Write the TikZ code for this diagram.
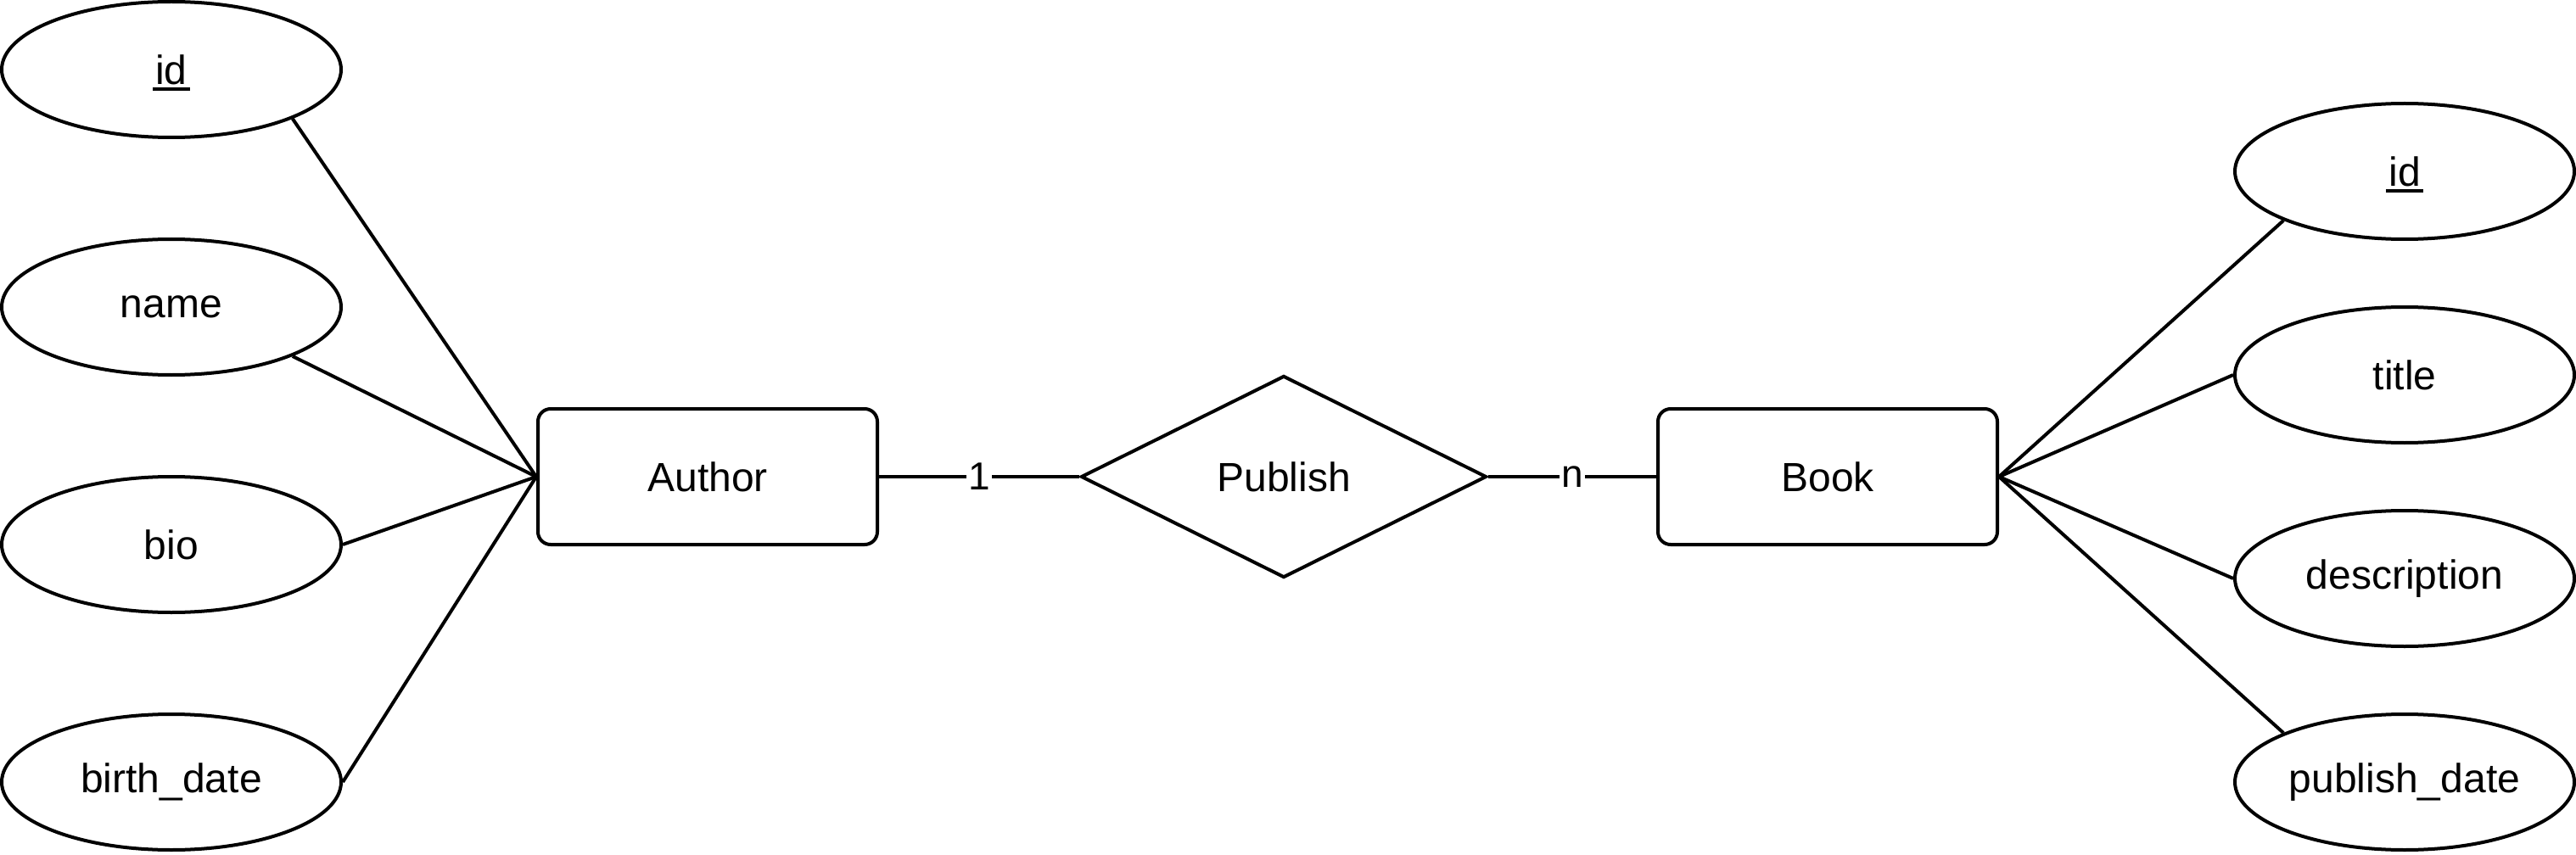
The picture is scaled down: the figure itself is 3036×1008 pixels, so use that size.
\documentclass[tikz,border=0pt]{standalone}
\usepackage{fontspec}
\setmainfont{Liberation Sans}
\usetikzlibrary{shapes.geometric}
\newcommand{\keyattr}[1]{\setbox0\hbox{#1}\rlap{\smash{\hspace*{-3pt}\rule[-8pt]{\dimexpr\wd0+6pt\relax}{4pt}}}#1}
\begin{document}
\begin{tikzpicture}[x=1pt,y=-1pt, line width=4pt,
  txt/.style={font=\fontsize{48}{56}\selectfont},
  attr/.style={draw, ellipse, txt, minimum width=400pt, minimum height=160pt, inner sep=0pt},
  entity/.style={draw, rectangle, txt, rounded corners=15pt, minimum width=400pt, minimum height=160pt, inner sep=0pt},
  rel/.style={draw, diamond, txt, minimum width=478pt, minimum height=238pt, inner sep=0pt},
  card/.style={fill=white, inner sep=2pt, font=\fontsize{46}{54}\selectfont},
  link/.style={draw}]
\useasboundingbox (0,0) rectangle (3036,1008);
% left attributes
\node[attr] (aid)    at (202,82)  {\keyattr{id}};
\node[attr] (aname)  at (202,362) {name};
\node[attr] (abio)   at (202,642) {bio};
\node[attr] (abirth) at (202,922) {birth\_date};
% right attributes
\node[attr] (bid)    at (2834,202) {\keyattr{id}};
\node[attr] (btitle) at (2834,442) {title};
\node[attr] (bdesc)  at (2834,682) {description};
\node[attr] (bpub)   at (2834,922) {publish\_date};
% entities and relation
\node[entity] (author) at (834,562)  {Author};
\node[rel]    (publish) at (1513,562) {Publish};
\node[entity] (book)   at (2154,562) {Book};
% connectors
\draw[link] (aid.south east) -- (author.west);
\draw[link] (aname.south east) -- (author.west);
\draw[link] (abio.east) -- (author.west);
\draw[link] (abirth.east) -- (author.west);
\draw[link] (bid.south west) -- (book.east);
\draw[link] (btitle.west) -- (book.east);
\draw[link] (bdesc.west) -- (book.east);
\draw[link] (bpub.north west) -- (book.east);
\draw[link] (author.east) -- node[card] {1} (publish.west);
\draw[link] (publish.east) -- node[card] {n} (book.west);
\end{tikzpicture}
\end{document}
